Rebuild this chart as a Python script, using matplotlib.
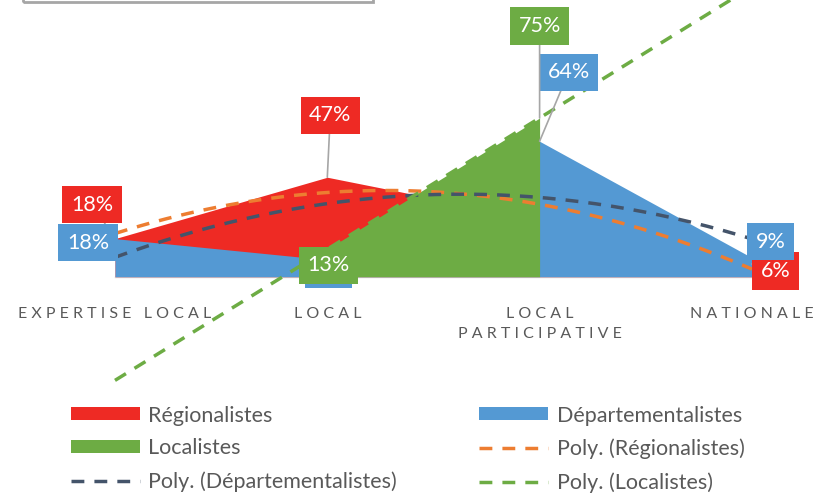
import matplotlib
matplotlib.use("Agg")
import matplotlib.pyplot as plt
from matplotlib.patches import Rectangle
import numpy as np

# données (en %)
categories = ["EXPERTISE LOCAL", "LOCAL", "LOCAL\nPARTICIPATIVE", "NATIONALE"]
regionalistes = [18, 47, 27, 6]
departementalistes = [18, 8, 64, 9]
localistes = [np.nan, 13, 75, np.nan]

c_red = "#EE2A24"
c_blue = "#5499D3"
c_green = "#6DAC44"
c_orange = "#ED7D31"
c_navy = "#44546A"
c_grey = "#595959"

plt.rcParams["font.family"] = ["Lato", "DejaVu Sans"]

fig = plt.figure(figsize=(8.19, 4.97), dpi=100)
ax = fig.add_axes([0, 0, 1, 1])
ax.axis("off")

# échelle : 212.3 px par catégorie, 2.116 px par %
px_cat = 212.3
px_pct = 2.116
ax.set_xlim(-115 / px_cat, (819 - 115) / px_cat)
ax.set_ylim(-(497 - 276.7) / px_pct, 276.7 / px_pct)

x = np.arange(len(categories))
ax.plot([x[0], x[-1]], [0, 0], color="#D9D9D9", lw=1, zorder=1)

series = [
    ("Régionalistes", regionalistes, c_red, c_orange),
    ("Départementalistes", departementalistes, c_blue, c_navy),
    ("Localistes", localistes, c_green, c_green),
]

areas = {}
for i, (name, vals, col, tcol) in enumerate(series):
    v = np.array(vals, dtype=float)
    areas[name] = ax.fill_between(x, 0, v, color=col, lw=0, zorder=2 + i, label=name)

# courbes de tendance polynomiales
trends = {}
xs = np.linspace(x[0], x[-1], 200)
for name, vals, col, tcol in series:
    v = np.array(vals, dtype=float)
    ok = ~np.isnan(v)
    deg = min(2, ok.sum() - 1)
    coef = np.polyfit(x[ok], v[ok], deg)
    ln, = ax.plot(xs, np.polyval(coef, xs), color=tcol, lw=2.5, dashes=(3.7, 2.9),
                  zorder=6, label="Poly. (" + name + ")")
    trends[name] = ln

# étiquettes de données (décalage en pixels)
offsets = {
    "Régionalistes": [(-23, 34), (3, 62), None, (24, -7)],
    "Départementalistes": [(-27, -4), (1, -10), (29, 69), (19, 16)],
    "Localistes": [None, (1, -16), (0, 92), None],
}
for name, vals, col, tcol in series:
    for i, v in enumerate(vals):
        off = offsets[name][i]
        if off is None or np.isnan(v):
            continue
        ax.annotate(f"{v:.0f}%", xy=(x[i], v), xytext=off, textcoords="offset pixels",
                    ha="center", va="center", color="white", fontsize=15.5,
                    bbox=dict(boxstyle="square,pad=0.4", fc=col, ec="none"),
                    arrowprops=dict(arrowstyle="-", color="#A6A6A6", lw=1.2,
                                    shrinkA=0, shrinkB=0),
                    zorder=8)

# libellés des catégories, espacés
def spaced(s):
    return "\n".join("   ".join(" ".join(w) for w in line.split(" ")) for line in s.split("\n"))

for i, cat in enumerate(categories):
    ax.annotate(spaced(cat), xy=(x[i], 0), xytext=(0, -30), textcoords="offset pixels",
                ha="center", va="top", color=c_grey, fontsize=11.5, linespacing=1.55)

# légende
handles = [areas["Régionalistes"], areas["Localistes"], trends["Départementalistes"],
           areas["Départementalistes"], trends["Régionalistes"], trends["Localistes"]]
leg = fig.legend(handles=handles, labels=[h.get_label() for h in handles], ncol=2,
                 loc="upper left", bbox_to_anchor=(0.063, 0.223), frameon=False,
                 fontsize=15.5, labelcolor=c_grey, handlelength=3.2, handleheight=0.55,
                 handletextpad=0.4, columnspacing=3.8, labelspacing=0.6)

# cadre du titre coupé en haut
fig.patches.append(Rectangle((23 / 819, 1 - 2 / 497), 350 / 819, 0.05, transform=fig.transFigure,
                             fill=False, ec="#A6A6A6", lw=2, clip_on=False))

fig.savefig("out.png", dpi=100)
